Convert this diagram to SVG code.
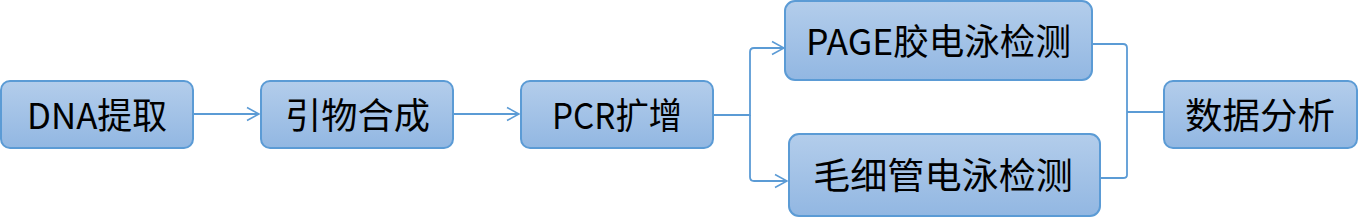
<svg xmlns="http://www.w3.org/2000/svg" width="1359" height="218" viewBox="0 0 1359 218">
<defs>
<linearGradient id="g" x1="0" y1="0" x2="0" y2="1">
<stop offset="0" stop-color="#b3cdeb"/>
<stop offset="1" stop-color="#92b7e2"/>
</linearGradient>
<marker id="arr" markerWidth="16" markerHeight="16" refX="13" refY="8" orient="auto" markerUnits="userSpaceOnUse">
<path d="M1,1.5 L13,8 L1,14.5" fill="none" stroke="#5b9bd5" stroke-width="1.5"/>
</marker>
<style>
.box{fill:url(#g);stroke:#5b9bd5;stroke-width:2}
.t{font-family:"Microsoft YaHei","Noto Sans CJK SC",sans-serif;font-size:36px;fill:#000;text-anchor:middle}
.c{fill:none;stroke:#5b9bd5;stroke-width:1.8}
</style>
</defs>
<g id="connectors">
<path class="c" d="M193,114 H259" marker-end="url(#arr)"/>
<path class="c" d="M453,114 H519" marker-end="url(#arr)"/>
<path class="c" d="M713,115 H750 V52 Q750,48 754,48 H784" marker-end="url(#arr)"/>
<path class="c" d="M750,115 V177 Q750,181 754,181 H787" marker-end="url(#arr)"/>
<path class="c" d="M1093,44 H1123 Q1127,44 1127,48 V175 Q1127,178 1123,178 H1096"/>
<path class="c" d="M1127,112 H1164"/>
</g>
<g id="n1"><rect class="box" x="1" y="81" width="192" height="67" rx="9"/><text class="t" x="97" y="128.5" textLength="140" lengthAdjust="spacingAndGlyphs">DNA提取</text></g>
<g id="n2"><rect class="box" x="261" y="81" width="192" height="67" rx="9"/><text class="t" x="357.5" y="128.5" textLength="145" lengthAdjust="spacingAndGlyphs">引物合成</text></g>
<g id="n3"><rect class="box" x="521" y="81" width="192" height="67" rx="9"/><text class="t" x="617" y="128.5" textLength="130" lengthAdjust="spacingAndGlyphs">PCR扩增</text></g>
<g id="n4"><rect class="box" x="785" y="1" width="307" height="79" rx="10"/><text class="t" x="938.5" y="54.5" textLength="265" lengthAdjust="spacingAndGlyphs">PAGE胶电泳检测</text></g>
<g id="n5"><rect class="box" x="789" y="134" width="311" height="82" rx="10"/><text class="t" x="943" y="188.5" textLength="260" lengthAdjust="spacingAndGlyphs">毛细管电泳检测</text></g>
<g id="n6"><rect class="box" x="1164" y="81" width="193" height="67" rx="9"/><text class="t" x="1260" y="128.5" textLength="150" lengthAdjust="spacingAndGlyphs">数据分析</text></g>
</svg>
